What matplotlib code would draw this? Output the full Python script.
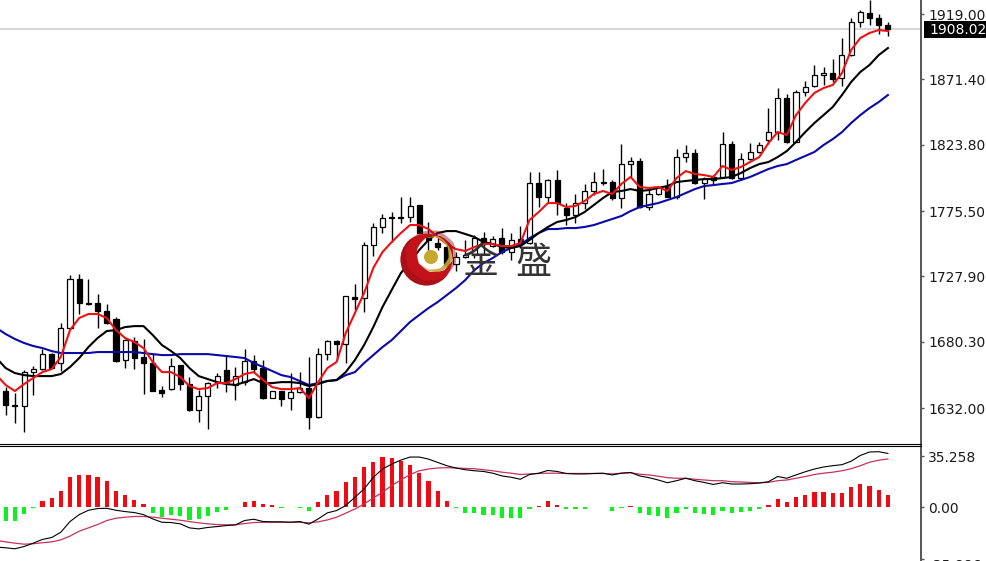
import matplotlib
matplotlib.use('Agg')
import matplotlib.pyplot as plt
import numpy as np
from matplotlib.patches import Circle, PathPatch, Rectangle
from matplotlib.path import Path

# daily candles, oldest first
opens = [1644.4,1634.2,1633.5,1658.2,1660.4,1671.3,1664.8,1690.3,1726.0,1708.5,1708.5,1702.7,1696.8,1667.0,1680.8,1669.2,1664.8,1645.1,1645.8,1663.3,
         1649.5,1630.6,1640.8,1650.9,1659.7,1648.8,1650.9,1666.2,1661.1,1639.3,1644.4,1639.3,1643.7,1646.6,1625.5,1671.3,1680.8,1678.6,1712.9,1712.1,
         1750.7,1763.9,1771.1,1771.1,1771.1,1779.9,1758.0,1752.2,1749.3,1737.0,1742.0,1743.5,1755.8,1750.0,1755.8,1745.6,1755.1,1752.2,1795.9,1785.7,
         1798.1,1777.7,1772.6,1781.3,1790.1,1796.6,1796.6,1785.0,1809.7,1811.9,1778.4,1787.9,1793.0,1785.7,1814.8,1817.8,1795.9,1800.3,1800.3,1824.3,
         1799.5,1813.4,1818.5,1827.2,1833.0,1857.8,1825.8,1862.2,1866.6,1874.6,1876.0,1872.4,1889.1,1913.2,1919.7,1916.1,1911.0]
closes = [1634.2,1633.5,1658.2,1660.4,1671.3,1661.1,1690.3,1726.0,1708.5,1707.8,1702.7,1693.9,1666.2,1681.5,1668.4,1664.8,1644.4,1642.9,1662.6,1649.5,
          1630.6,1640.8,1650.2,1655.3,1650.9,1655.3,1666.2,1660.4,1639.3,1644.4,1638.6,1643.7,1646.6,1625.5,1671.3,1680.8,1678.6,1713.6,1711.4,1750.7,
          1763.9,1770.4,1770.4,1770.4,1779.2,1759.5,1754.4,1749.3,1736.2,1742.0,1743.5,1755.8,1751.5,1755.1,1745.6,1754.4,1751.5,1795.9,1785.7,1798.1,
          1781.3,1772.6,1781.3,1790.1,1796.6,1795.9,1785.0,1809.7,1811.9,1778.4,1787.9,1793.0,1785.7,1814.8,1817.8,1795.9,1798.8,1798.1,1824.3,1799.5,
          1813.4,1818.5,1823.6,1833.0,1857.8,1825.8,1862.2,1865.8,1874.6,1876.0,1871.7,1889.1,1913.2,1920.5,1916.1,1911.0,1908.0]
highs = [1647.3,1642.9,1659.7,1662.6,1675.0,1672.1,1693.9,1728.9,1729.6,1726.0,1715.0,1707.8,1698.3,1682.3,1683.7,1682.3,1671.3,1648.0,1668.4,1663.3,
         1654.6,1645.1,1650.9,1657.5,1669.9,1661.9,1675.0,1670.6,1667.0,1644.4,1644.4,1657.5,1658.2,1669.2,1675.7,1681.5,1681.5,1713.6,1722.3,1752.9,
         1766.8,1773.3,1774.8,1785.7,1785.7,1779.9,1767.5,1755.8,1752.9,1745.6,1754.4,1758.0,1760.2,1757.3,1763.1,1759.5,1764.6,1803.9,1803.9,1798.8,
         1805.4,1781.3,1787.9,1795.2,1803.9,1806.1,1798.1,1824.3,1814.8,1814.1,1793.0,1793.7,1798.8,1820.7,1823.6,1820.7,1800.3,1801.7,1833.0,1826.5,
         1817.8,1825.0,1825.8,1850.5,1865.1,1860.7,1863.6,1870.2,1881.9,1880.4,1886.2,1901.5,1916.1,1921.9,1929.2,1919.0,1913.2]
lows = [1626.9,1621.1,1614.5,1641.5,1659.7,1661.1,1659.0,1689.6,1700.5,1707.0,1690.3,1693.2,1665.5,1661.1,1660.4,1642.2,1644.4,1640.0,1645.1,1645.1,
        1629.8,1621.8,1616.7,1646.6,1643.7,1637.8,1648.8,1657.5,1638.6,1639.3,1633.5,1630.6,1642.9,1616.7,1624.7,1667.0,1667.0,1664.8,1703.4,1701.9,
        1742.7,1759.5,1752.9,1766.8,1767.5,1759.5,1747.1,1747.1,1734.7,1731.8,1741.3,1741.3,1743.5,1749.3,1744.2,1739.8,1748.6,1751.5,1778.4,1781.3,
        1772.6,1765.3,1766.8,1777.0,1787.2,1794.4,1783.5,1777.7,1800.3,1777.7,1776.2,1787.2,1785.7,1784.2,1811.2,1795.2,1784.2,1795.2,1800.3,1798.8,
        1798.1,1812.7,1817.8,1824.3,1827.2,1825.0,1825.8,1859.3,1865.8,1867.3,1869.5,1866.6,1888.4,1909.5,1911.0,1904.4,1903.0]

# moving averages, they start one bar left of the first candle
ma_fast = [1656.0,1648.8,1644.4,1649.5,1653.9,1658.2,1660.4,1669.2,1688.8,1697.6,1700.5,1700.5,1697.6,1688.8,1683.0,1680.1,1675.7,1665.5,1658.2,1658.2,
           1654.6,1648.0,1645.8,1646.6,1650.2,1650.2,1653.1,1656.8,1658.2,1652.4,1647.3,1645.8,1645.8,1646.6,1639.3,1650.9,1661.1,1665.5,1686.6,1701.2,
           1715.8,1734.0,1745.6,1752.9,1759.5,1765.3,1765.3,1762.4,1756.6,1751.5,1747.8,1746.4,1749.3,1751.5,1751.5,1750.0,1750.0,1752.2,1769.0,1774.8,
           1781.3,1781.3,1778.4,1779.2,1782.8,1787.9,1790.1,1787.9,1795.2,1800.3,1793.0,1792.3,1793.0,1790.1,1799.5,1804.6,1802.5,1801.7,1800.3,1808.3,
           1805.4,1807.6,1811.2,1814.8,1825.0,1833.0,1830.9,1845.4,1854.2,1861.5,1865.1,1867.3,1876.0,1892.8,1901.5,1905.2,1907.3,1906.6]
ma_mid = [1668.4,1661.1,1657.5,1656.0,1655.3,1655.3,1655.3,1656.8,1661.9,1668.4,1676.4,1683.0,1688.1,1688.8,1691.0,1691.7,1691.7,1685.2,1677.9,1673.5,
          1668.4,1661.1,1655.3,1653.1,1650.9,1649.5,1648.8,1650.9,1653.1,1650.2,1650.2,1650.9,1650.9,1650.2,1648.0,1649.5,1651.7,1652.4,1658.2,1667.0,
          1677.9,1691.0,1705.6,1718.0,1730.3,1738.4,1747.1,1754.4,1759.5,1760.9,1760.9,1758.8,1756.6,1752.9,1751.5,1749.3,1748.6,1750.0,1754.4,1759.5,
          1763.9,1767.5,1769.0,1771.1,1774.8,1779.9,1785.0,1789.3,1790.1,1791.5,1790.1,1790.8,1792.3,1793.7,1796.6,1797.4,1798.1,1798.8,1798.8,1799.5,
          1800.3,1803.2,1806.8,1809.7,1811.2,1814.8,1819.2,1825.8,1833.0,1839.6,1845.4,1851.3,1860.0,1869.5,1876.8,1881.9,1889.1,1894.2]
ma_slow = [1690.3,1685.9,1682.3,1679.4,1677.2,1675.7,1673.5,1672.1,1672.1,1672.1,1672.1,1672.8,1672.8,1672.8,1672.8,1672.8,1672.1,1671.3,1670.6,1670.6,
           1671.3,1671.3,1671.3,1671.3,1670.6,1669.9,1669.2,1668.4,1664.8,1661.9,1659.0,1656.0,1654.6,1651.7,1648.8,1650.2,1651.7,1652.4,1656.0,1658.2,
           1664.8,1670.6,1676.4,1681.5,1688.1,1694.7,1699.8,1704.8,1709.2,1714.3,1719.4,1725.2,1732.5,1737.6,1741.3,1745.6,1748.6,1750.7,1755.8,1759.5,
           1762.4,1762.4,1763.1,1763.1,1763.9,1765.3,1767.5,1769.7,1771.9,1775.5,1778.4,1779.9,1781.3,1783.5,1785.7,1788.6,1791.5,1793.7,1794.4,1795.2,
           1795.9,1798.1,1800.3,1803.2,1806.1,1808.3,1809.7,1812.7,1815.6,1818.5,1823.6,1827.9,1833.0,1839.6,1845.4,1850.5,1854.9,1860.0]

# lower panel
hist = [-9.7,-9.2,-4.6,-0.7,4.4,6.4,11.5,20.7,22.6,22.6,21.2,18.4,11.5,8.8,5.1,2.5,-3.9,-6.9,-5.3,-6.4,
        -8.8,-8.3,-6.0,-3.2,-1.6,0.5,3.9,4.6,2.3,1.4,-0.3,0.5,-0.4,-2.5,3.7,8.8,11.5,17.7,20.7,27.6,
        31.5,34.5,33.9,32.2,29.5,23.5,18.0,11.5,4.4,-0.5,-4.3,-3.8,-5.7,-5.7,-7.6,-7.6,-7.6,-1.2,0.9,4.5,
        1.9,-0.9,-1.4,-0.9,0.4,0.4,-2.4,-0.3,1.2,-4.0,-5.7,-6.1,-7.6,-4.0,-1.4,-4.0,-4.7,-5.7,-2.8,-4.0,
        -3.3,-2.6,-0.9,1.4,5.9,3.8,7.3,8.7,10.9,10.9,9.9,10.2,13.9,16.1,14.6,12.3,8.7]
macd = [-27.6,-28.1,-28.8,-27.2,-24.9,-22.3,-21.0,-17.3,-9.9,-5.1,-2.1,-0.9,-0.7,-2.1,-3.0,-3.7,-5.1,-8.1,-10.4,-10.6,
        -11.5,-14.3,-15.0,-14.0,-13.4,-12.7,-12.2,-9.2,-8.3,-9.9,-10.1,-10.1,-10.4,-9.9,-11.7,-8.1,-3.9,-2.3,1.2,6.9,
        12.7,20.7,26.5,29.9,32.7,34.8,34.8,33.4,31.1,28.8,27.2,26.0,25.3,24.8,23.6,21.7,20.8,19.4,22.7,23.6,
        25.5,24.8,23.4,23.1,23.1,23.4,23.6,22.4,23.6,24.1,21.7,20.5,18.9,17.0,18.4,20.1,18.4,17.2,15.8,17.0,
        16.1,16.1,16.3,16.8,17.7,21.3,20.1,22.4,24.6,26.5,27.9,28.8,29.5,31.9,35.9,38.3,38.5,37.3]
signal = [-23.0,-24.0,-24.9,-25.6,-25.3,-24.6,-24.0,-22.6,-20.0,-16.6,-14.3,-12.0,-9.2,-7.6,-6.9,-6.4,-6.4,-6.9,-7.6,-8.3,
          -9.0,-9.9,-10.8,-11.5,-12.0,-12.2,-12.2,-11.3,-10.6,-10.4,-10.4,-10.4,-10.4,-10.4,-10.8,-10.1,-8.8,-6.9,-4.1,-1.2,
          2.3,6.4,10.4,15.0,18.9,22.6,25.3,26.5,27.2,27.4,27.2,26.9,26.7,26.0,25.3,24.3,23.6,22.7,23.1,23.4,
          23.6,23.6,23.4,23.4,23.4,23.4,23.4,23.1,23.6,23.9,22.9,22.4,21.5,20.5,20.1,20.1,19.4,18.9,18.4,18.4,
          17.7,17.5,17.2,17.0,17.2,18.4,18.9,20.1,21.3,22.7,23.6,24.3,25.3,26.7,28.8,31.2,32.6,33.5]

price_ticks = [1919.00, 1871.40, 1823.80, 1775.50, 1727.90, 1680.30, 1632.00]
macd_ticks = [35.258, 0.00, -35.886]
macd_labels = ['35.258', '0.00', '-35.886']
last_price = 1908.02

W, H = 987, 561
fig = plt.figure(figsize=(W / 100, H / 100), dpi=100)
ax = fig.add_axes([0, 1 - 443.5 / H, 921 / W, 443.5 / H])
# lower panel runs a little past the bottom of the image
ax2 = fig.add_axes([0, -9 / H, 921 / W, (H + 9 - 445.5) / H])

x = np.arange(len(opens))
ma_x = np.arange(-1, len(opens))
opens = np.array(opens)
closes = np.array(closes)

ax.axhline(last_price, color='#cfcfcf', lw=1.2, zorder=1)
ax.vlines(x, lows, highs, color='black', lw=1, zorder=2)
up = closes >= opens
ax.bar(x[up], (closes - opens)[up], bottom=opens[up], width=0.55, fc='white', ec='black', lw=0.9, zorder=3)
ax.bar(x[~up], (opens - closes)[~up], bottom=closes[~up], width=0.55, fc='black', ec='black', lw=0.9, zorder=3)
ax.plot(ma_x, ma_slow, color='#0a0aa8', lw=1.5, zorder=4)
ax.plot(ma_x, ma_mid, color='black', lw=1.5, zorder=5)
ax.plot(ma_x, ma_fast, color='#ee1111', lw=1.5, zorder=6)

ax.set_xlim(-0.62, 99.6)
ax.set_ylim(1606.2, 1929.2)
ax.set_xticks([])
ax.yaxis.tick_right()
ax.set_yticks(price_ticks)
ax.set_yticklabels(['%.2f' % p for p in price_ticks])

hist = np.array(hist)
ax2.bar(x, hist, width=0.46, color=np.where(hist > 0, '#f00a14', '#10f020'), zorder=2)
ax2.plot(ma_x, signal, color='#c8325a', lw=0.9, zorder=3)
ax2.plot(ma_x, macd, color='black', lw=0.8, zorder=4)
ax2.set_xlim(-0.62, 99.6)
ax2.set_ylim(-43.5, 42.8)
ax2.set_xticks([])
ax2.yaxis.tick_right()
ax2.set_yticks(macd_ticks)
ax2.set_yticklabels(macd_labels)
ax2.get_yticklabels()[2].set_va('top')

for a in (ax, ax2):
    a.tick_params(axis='y', length=2.5, width=1, pad=2.5, color='#555555', labelsize=10, labelcolor='#1a1a1a')
    a.spines['left'].set_visible(False)
    a.spines['right'].set_color('#555555')
    a.spines['right'].set_linewidth(1.4)
ax.spines['top'].set_visible(False)
ax.spines['bottom'].set_linewidth(0.8)
ax2.spines['bottom'].set_visible(False)
ax2.spines['top'].set_linewidth(0.8)

# price tag and logo on top, in pixel coordinates
over = fig.add_axes([0, 0, 1, 1], zorder=10)
over.set_xlim(0, W)
over.set_ylim(H, 0)
over.axis('off')
over.patch.set_alpha(0)

over.add_patch(Rectangle((924, 21), 64, 17, fc='black', ec='none'))
over.text(929, 29.5, '%.2f' % last_price, color='white', fontsize=10, ha='left', va='center')

def ring(c1, r1, c2, r2):
    a = Path.circle(c1, r1)
    b = Path.circle(c2, r2)
    verts = np.vstack([a.vertices, b.vertices[::-1]])
    codes = np.r_[a.codes, Path.MOVETO, b.codes[1:-1], Path.CLOSEPOLY]
    return Path(verts, codes)

over.add_patch(PathPatch(ring((435, 254), 18, (432.5, 253.5), 16), fc='#c8a83c', ec='none', alpha=0.9))
over.add_patch(PathPatch(ring((426.5, 259.5), 26, (435, 254), 18), fc='#c4121a', ec='none'))
over.add_patch(PathPatch(ring((426.5, 259.5), 26, (431, 255.5), 25), fc='#8e0c14', ec='none', alpha=0.45))
over.add_patch(Circle((431, 257), 7, fc='#c9a62c', ec='none'))
over.text(481, 262.5, '金', fontsize=26, family='Noto Sans CJK SC', color='#333333', ha='center', va='center')
over.text(533, 262.5, '盛', fontsize=26, family='Noto Sans CJK SC', color='#333333', ha='center', va='center')

fig.savefig('out.png', dpi=100)
